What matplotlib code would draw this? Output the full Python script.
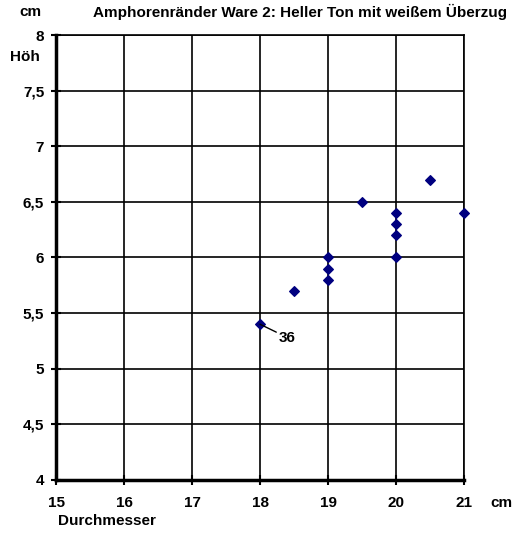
import matplotlib.pyplot as plt
from matplotlib.ticker import FixedLocator

plt.rcParams['font.family'] = ['Liberation Sans', 'DejaVu Sans']
plt.rcParams['font.weight'] = 'bold'

# Durchmesser (cm) und Höhe (cm)
durchmesser = [18, 18.5, 19, 19, 19, 19.5, 20, 20, 20, 20, 20.5, 21]
hoehe = [5.4, 5.7, 5.8, 5.9, 6.0, 6.5, 6.0, 6.2, 6.3, 6.4, 6.7, 6.4]
x_ticks = [15, 16, 17, 18, 19, 20, 21]
y_ticks = [4, 4.5, 5, 5.5, 6, 6.5, 7, 7.5, 8]
y_labels = ['4', '4,5', '5', '5,5', '6', '6,5', '7', '7,5', '8']

fig = plt.figure(figsize=(5.19, 5.36), dpi=100)
ax = fig.add_axes([0.108, 0.1045, 0.786, 0.8302])

ax.scatter(durchmesser, hoehe, marker='D', s=24, color='#000080', zorder=3, clip_on=False)

ax.set_xlim(15, 21)
ax.set_ylim(4, 8)
ax.xaxis.set_major_locator(FixedLocator(x_ticks))
ax.set_yticks(y_ticks)
ax.set_yticklabels(y_labels)
ax.grid(True, color='black', linewidth=1.2)
ax.set_axisbelow(True)

for side in ['top', 'right']:
    ax.spines[side].set_linewidth(1.2)
for side in ['left', 'bottom']:
    ax.spines[side].set_linewidth(2.5)
ax.tick_params(direction='inout', length=7, width=1.5, labelsize=11)
ax.tick_params(axis='x', pad=8)
ax.tick_params(axis='y', pad=5)
for lbl in ax.get_xticklabels() + ax.get_yticklabels():
    lbl.set_fontweight('bold')

# Beschriftung Punkt 36
ax.annotate('36', xy=(18, 5.4), xytext=(18.28, 5.28), fontsize=11, fontweight='bold',
            arrowprops=dict(arrowstyle='-', color='black', lw=1, shrinkA=0, shrinkB=0),
            ha='left', va='center')

fig.text(0.058, 0.977, 'cm', fontsize=11, fontweight='bold', ha='center', va='center')
fig.text(0.578, 0.977, 'Amphorenränder Ware 2: Heller Ton mit weißem Überzug',
         fontsize=11, fontweight='bold', ha='center', va='center')
fig.text(0.048, 0.894, 'Höh', fontsize=11, fontweight='bold', ha='center', va='center')
fig.text(0.967, 0.062, 'cm', fontsize=11, fontweight='bold', ha='center', va='center')
fig.text(0.112, 0.028, 'Durchmesser', fontsize=11, fontweight='bold', ha='left', va='center')

fig.savefig('out.png', dpi=100)
